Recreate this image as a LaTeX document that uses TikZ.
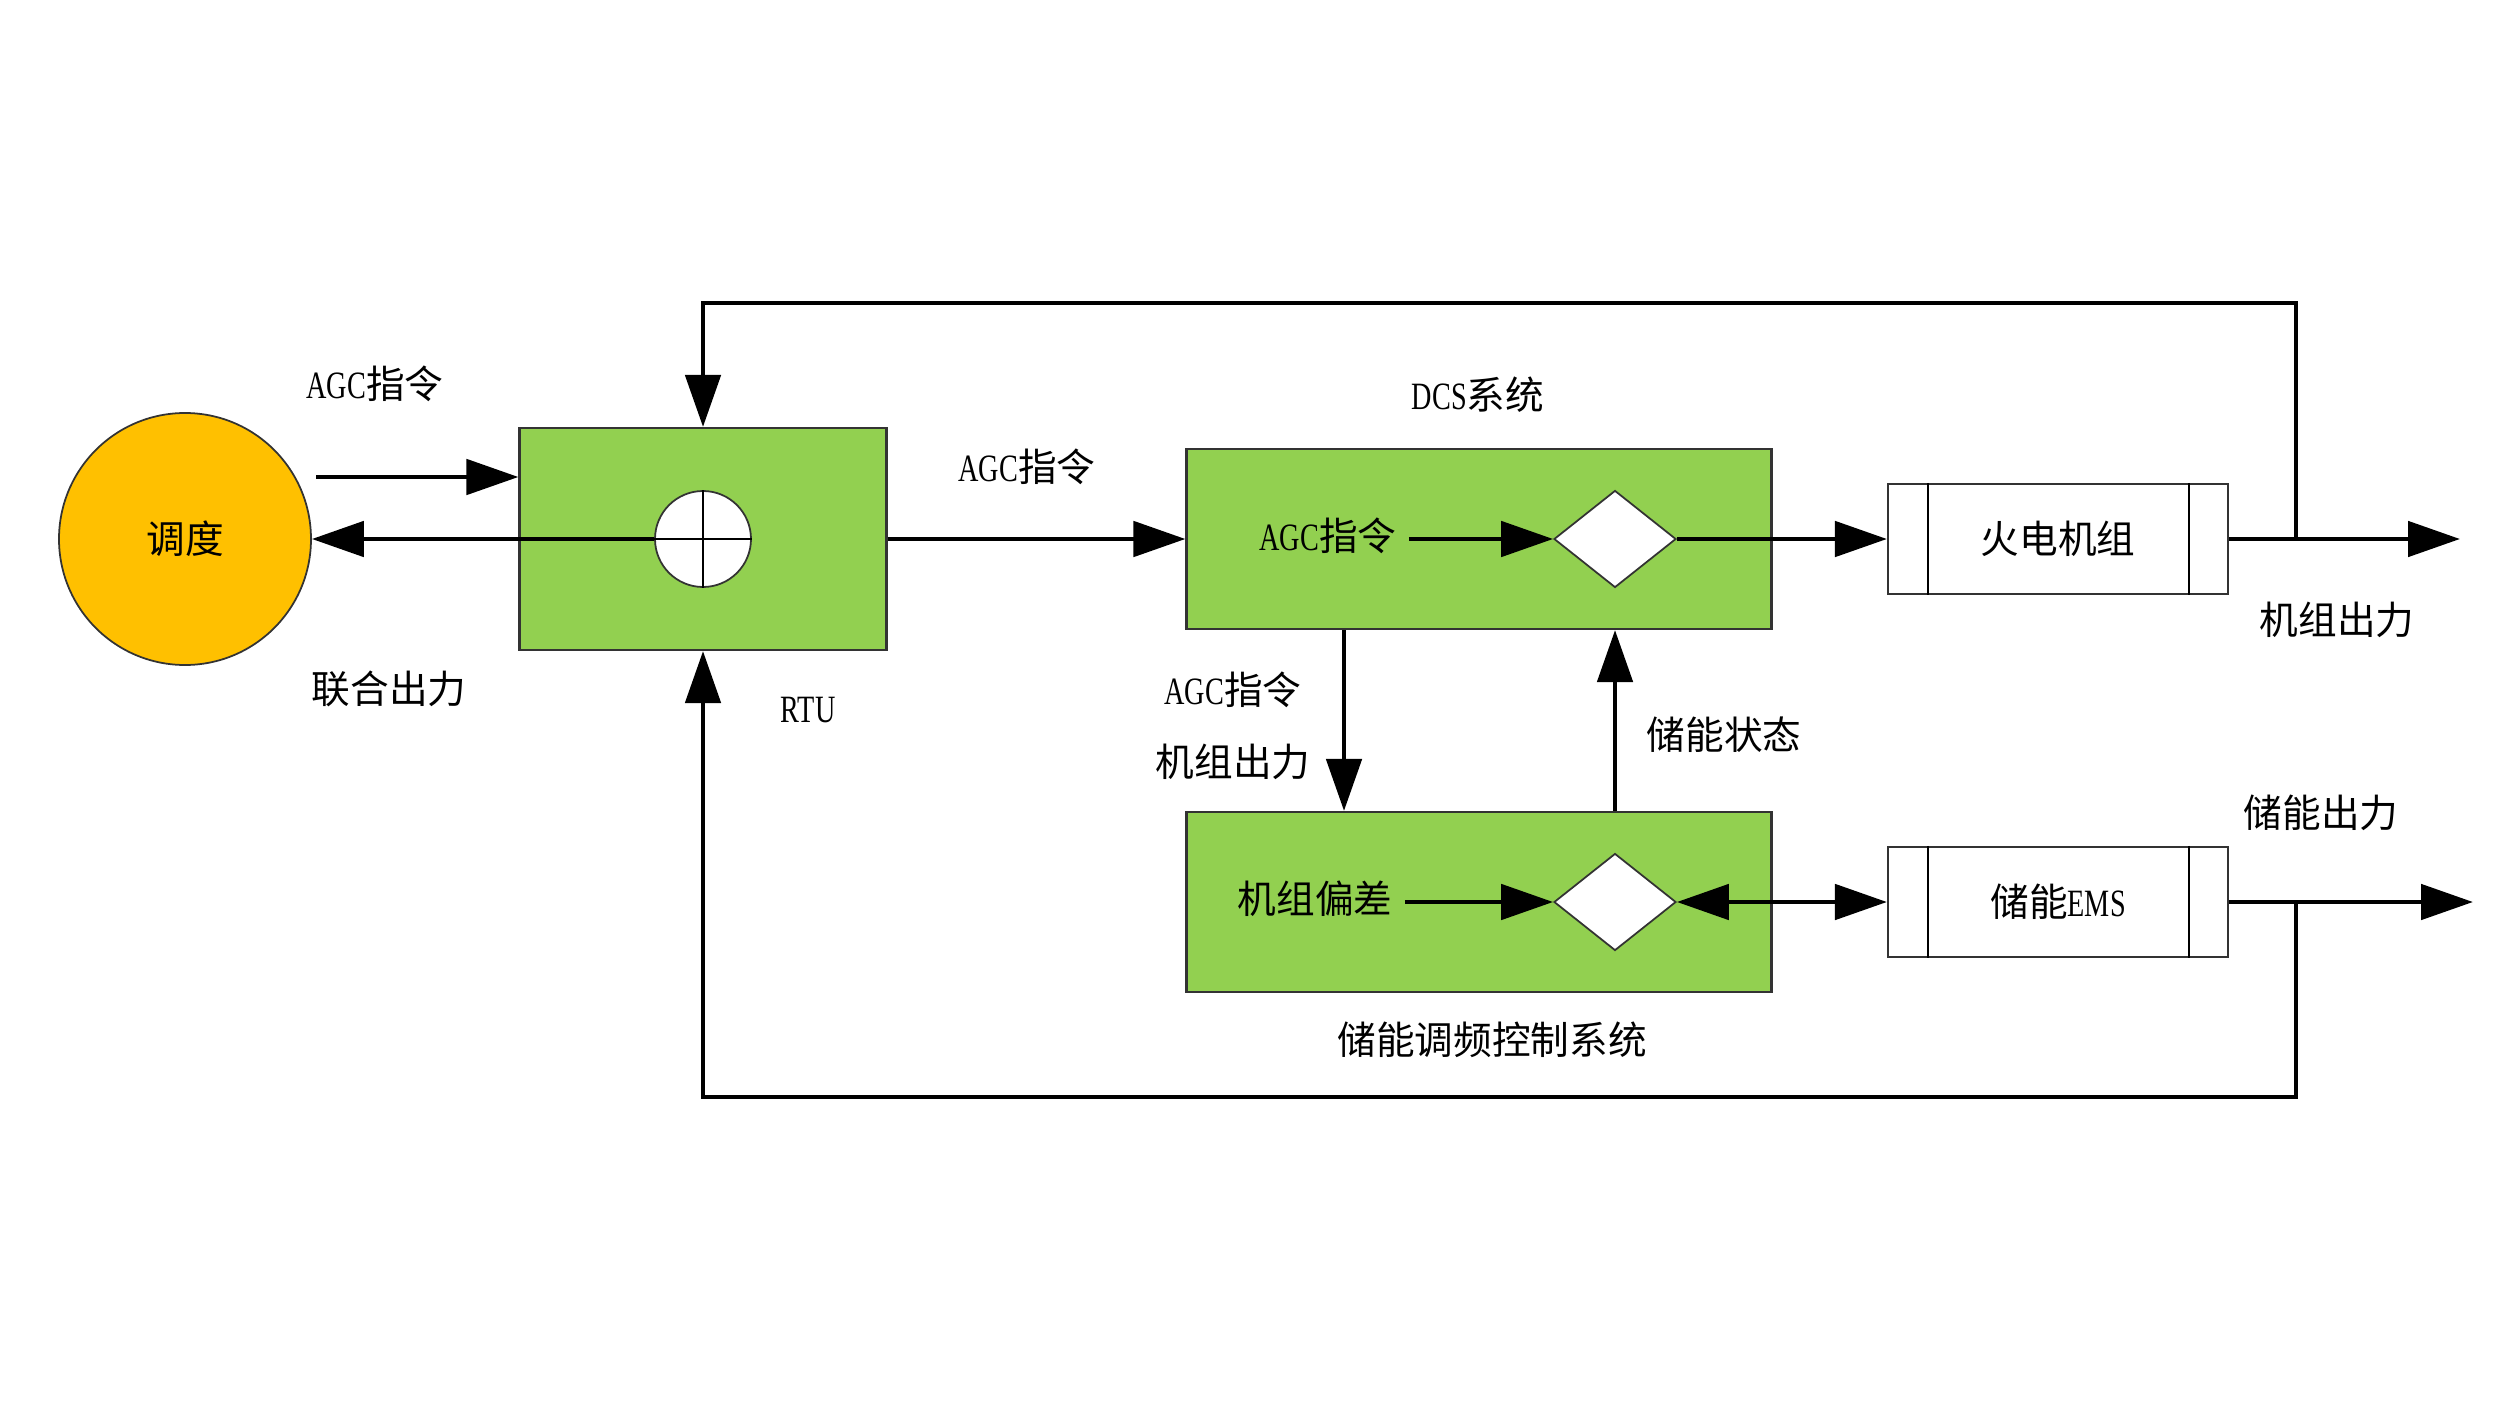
\documentclass[tikz,border=0pt]{standalone}
\usepackage{fontspec}
\setmainfont{Liberation Serif}[FakeStretch=0.73]
\newfontfamily\cjk{Noto Sans CJK SC}
\newcommand\zh[1]{{\cjk #1}}
\usetikzlibrary{arrows.meta, shapes.geometric}
\definecolor{boxgreen}{HTML}{92D050}
\definecolor{dispatchorange}{HTML}{FFC000}
\tikzset{
  arr/.style={line width=1.4pt, -{Triangle[length=5.2mm, width=3.5mm]}},
  dblarr/.style={line width=1.4pt, {Triangle[length=5.2mm, width=3.5mm]}-{Triangle[length=5.2mm, width=3.5mm]}},
  feed/.style={line width=1.4pt},
  greenbox/.style={draw=black!80, line width=0.6pt, fill=boxgreen, minimum width=5.85cm, minimum height=1.8cm},
  unitbox/.style={draw=black!80, line width=0.6pt, fill=white, minimum width=3.4cm, minimum height=1.1cm},
  mixer/.style={diamond, draw=black!80, line width=0.5pt, fill=white, inner sep=0pt, minimum width=1.22cm, minimum height=0.97cm},
}
\begin{document}
\begin{tikzpicture}[y=-1cm, font=\fontsize{11}{13}\selectfont]
  \useasboundingbox (0,0) rectangle (25,14.06);
  % dispatch and RTU
  \node[circle, draw=black!80, line width=0.5pt, fill=dispatchorange, minimum size=2.52cm] (dispatch) at (1.85,5.39) {\zh{调度}};
  \node[draw=black!80, line width=0.6pt, fill=boxgreen, minimum width=3.67cm, minimum height=2.22cm] (rtu) at (7.03,5.39) {};
  \node[circle, draw=black!80, line width=0.5pt, fill=white, minimum size=0.96cm, inner sep=0pt] (sum) at (7.03,5.39) {};
  \draw[line width=0.5pt] (sum.north) -- (sum.south) (sum.west) -- (sum.east);
  % DCS and storage control
  \node[greenbox] (dcs) at (14.79,5.39) {};
  \node[greenbox] (ess) at (14.79,9.02) {};
  \node (agcin) at (13.28,5.36) {AGC\zh{指令}};
  \node[mixer] (dcsmix) at (16.15,5.39) {};
  \node (dev) at (13.15,8.99) {\zh{机组偏差}};
  \node[mixer] (essmix) at (16.15,9.02) {};
  % units
  \node[unitbox] (coal) at (20.58,5.39) {\zh{火电机组}};
  \node[unitbox] (ems) at (20.58,9.02) {\zh{储能}EMS};
  \foreach \b in {coal, ems} {
    \draw[line width=0.5pt] ([xshift=0.41cm]\b.north west) -- ([xshift=0.41cm]\b.south west);
    \draw[line width=0.5pt] ([xshift=-0.40cm]\b.north east) -- ([xshift=-0.40cm]\b.south east);
  }
  % free ends
  \coordinate (cmdin) at (3.16,4.77);
  \coordinate (coalout) at (24.60,5.39);
  \coordinate (emsout) at (24.73,9.02);
  \coordinate (tapA) at (22.96,5.39);
  \coordinate (tapB) at (22.96,9.02);
  \coordinate (topy) at (0,3.03);
  \coordinate (boty) at (0,10.97);
  % connectors
  \draw[arr] (cmdin) -- (cmdin -| rtu.west);
  \draw[arr] (sum.west) -- (dispatch.east);
  \draw[arr] (rtu.east) -- (dcs.west);
  \draw[arr] (agcin.east |- dcsmix.west) -- (dcsmix.west);
  \draw[arr] (dcsmix.east) -- (coal.west);
  \draw[arr] (coal.east) -- (coalout);
  \draw[arr] (dev.east |- essmix.west) -- (essmix.west);
  \draw[dblarr] (essmix.east) -- (ems.west);
  \draw[arr] (ems.east) -- (emsout);
  \draw[arr] ([xshift=-1.35cm]dcs.south) -- ([xshift=-1.35cm]ess.north);
  \draw[arr] (essmix |- ess.north) -- (dcsmix |- dcs.south);
  \draw[feed, -{Triangle[length=5.2mm, width=3.5mm]}] (tapA) -- (tapA |- topy) -| (rtu.north);
  \draw[feed, -{Triangle[length=5.2mm, width=3.5mm]}] (tapB) -- (tapB |- boty) -| (rtu.south);
  % labels
  \node (lcmd) at (3.75,3.84) {AGC\zh{指令}};
  \node (ljoint) at (3.89,6.89) {\zh{联合出力}};
  \node (lrtu) at (8.08,7.10) {RTU};
  \node (lagc) at (10.27,4.67) {AGC\zh{指令}};
  \node (ldcs) at (14.78,3.95) {DCS\zh{系统}};
  \node (lcoalout) at (23.37,6.20) {\zh{机组出力}};
  \node (ldownA) at (12.33,6.90) {AGC\zh{指令}};
  \node (ldownB) at (12.33,7.62) {\zh{机组出力}};
  \node (lstate) at (17.24,7.35) {\zh{储能状态}};
  \node (less) at (14.92,10.40) {\zh{储能调频控制系统}};
  \node (lemsout) at (23.21,8.13) {\zh{储能出力}};
\end{tikzpicture}
\end{document}
